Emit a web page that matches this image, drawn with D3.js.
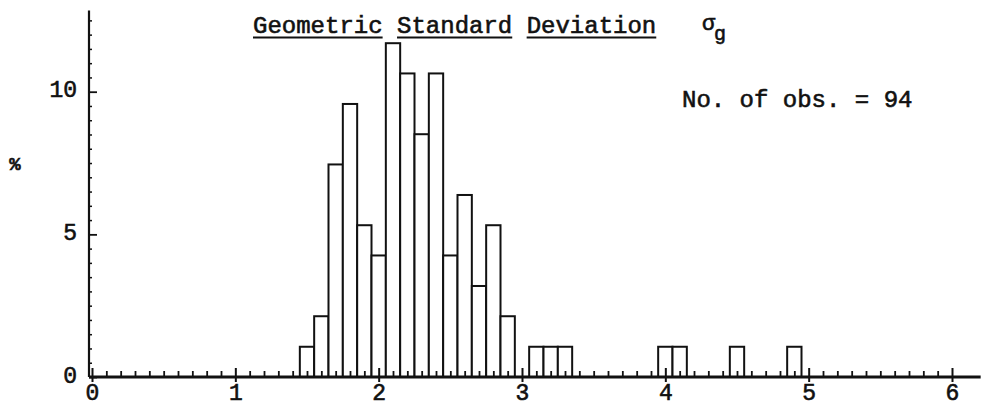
<!DOCTYPE html>
<html>
<head>
<meta charset="utf-8">
<script src="https://cdn.jsdelivr.net/npm/d3@7"></script>
<style>
  html, body { margin: 0; padding: 0; background: #fff; }
  svg { display: block; }
  text { font-family: "Liberation Mono", "DejaVu Sans Mono", monospace; fill: #111; stroke: #111; stroke-width: 0.6px; }
</style>
</head>
<body>
<svg id="chart" width="983" height="406"></svg>
<script>
// Histogram of geometric standard deviation, bins 0.1 wide, centred on each value
const binCenters = [1.5, 1.6, 1.7, 1.8, 1.9, 2.0, 2.1, 2.2, 2.3, 2.4, 2.5, 2.6, 2.7, 2.8, 2.9,
                    3.1, 3.2, 3.3, 4.0, 4.1, 4.5, 4.9];
// Percent of observations in each bin
const percents = [1.06, 2.13, 7.45, 9.57, 5.32, 4.26, 11.70, 10.64, 8.51, 10.64, 4.26, 6.38, 3.19, 5.32, 2.13,
                  1.06, 1.06, 1.06, 1.06, 1.06, 1.06, 1.06];
const xMajorTicks = [0, 1, 2, 3, 4, 5, 6];
const yMajorTicks = [0, 5, 10];
const titleWords = ["Geometric", "Standard", "Deviation"];
const noteText = "No. of obs. = 94";
const binWidth = 0.1;

const svg = d3.select("#chart");
const ink = "#111";

const x = d3.scaleLinear().domain([0, 6]).range([92, 952]);
const y = d3.scaleLinear().domain([0, 10]).range([377, 91.7]);

// Bars
svg.append("g")
  .selectAll("rect")
  .data(binCenters.map((c, i) => ({ c, p: percents[i] })))
  .join("rect")
  .attr("x", d => x(d.c - binWidth / 2))
  .attr("width", d => x(d.c + binWidth / 2) - x(d.c - binWidth / 2))
  .attr("y", d => y(d.p))
  .attr("height", d => y(0) - y(d.p))
  .attr("fill", "#fff")
  .attr("stroke", ink)
  .attr("stroke-width", 2);

// X axis: minor ticks every 0.1 pointing up
const xMinor = d3.range(0, 61).map(i => i / 10).filter(v => Math.abs(v - Math.round(v)) > 1e-9);
const gxMinor = svg.append("g").attr("transform", `translate(0,${y(0)})`)
  .call(d3.axisBottom(x).tickValues(xMinor).tickSizeInner(-6).tickSizeOuter(0).tickFormat(""));
gxMinor.select(".domain").remove();
gxMinor.selectAll(".tick line").attr("stroke", ink).attr("stroke-width", 1.8);

// X axis: major ticks and labels
const gxMajor = svg.append("g").attr("transform", `translate(0,${y(0)})`)
  .call(d3.axisBottom(x).tickValues(xMajorTicks).tickSizeInner(5).tickSizeOuter(0).tickFormat(d3.format("d")));
gxMajor.select(".domain").remove();
gxMajor.selectAll(".tick line").attr("y1", -9).attr("stroke", ink).attr("stroke-width", 2);
gxMajor.selectAll(".tick text")
  .attr("y", 23).attr("dy", 0)
  .style("font-size", "23px").style("font-family", "Liberation Mono, monospace").attr("fill", ink);

// X baseline
svg.append("line")
  .attr("x1", 89).attr("x2", x(6.2))
  .attr("y1", y(0)).attr("y2", y(0))
  .attr("stroke", ink).attr("stroke-width", 3);

// Y axis: minor ticks every 0.5 pointing right
const yMinor = d3.range(1, 26).map(i => i / 2).filter(v => v % 5 !== 0);
const gyMinor = svg.append("g").attr("transform", "translate(89,0)")
  .call(d3.axisLeft(y).tickValues(yMinor).tickSizeInner(-3).tickSizeOuter(0).tickFormat(""));
gyMinor.select(".domain").remove();
gyMinor.selectAll(".tick line").attr("stroke", ink).attr("stroke-width", 1.5);

// Y axis: major ticks and labels
const gyMajor = svg.append("g").attr("transform", "translate(89,0)")
  .call(d3.axisLeft(y).tickValues(yMajorTicks).tickSizeInner(-8).tickSizeOuter(0).tickPadding(12).tickFormat(d3.format("d")));
gyMajor.select(".domain").remove();
gyMajor.selectAll(".tick line").attr("stroke", ink).attr("stroke-width", 1.8);
gyMajor.selectAll(".tick text")
  .attr("dy", "0.22em")
  .style("font-size", "23px").style("font-family", "Liberation Mono, monospace").attr("fill", ink);

// Y axis line
svg.append("line")
  .attr("x1", 89).attr("x2", 89)
  .attr("y1", y(12.85)).attr("y2", y(0))
  .attr("stroke", ink).attr("stroke-width", 2.2);

// Y axis unit
svg.append("text")
  .attr("x", 15).attr("y", 170)
  .attr("text-anchor", "middle")
  .style("font-size", "19px").style("font-weight", "bold")
  .text("%");

// Title with each word underlined separately
const title = svg.append("text")
  .attr("x", 253).attr("y", 33)
  .style("font-size", "24px")
  .text(titleWords.join(" "));
const fullLen = title.node().getComputedTextLength();
const advance = fullLen / titleWords.join(" ").length;
let pos = 0;
titleWords.forEach(w => {
  svg.append("line")
    .attr("x1", 253 + pos * advance).attr("x2", 253 + (pos + w.length) * advance)
    .attr("y1", 37.5).attr("y2", 37.5)
    .attr("stroke", ink).attr("stroke-width", 2.2);
  pos += w.length + 1;
});

// Sigma with subscript g
svg.append("text")
  .attr("x", 702).attr("y", 30)
  .style("font-size", "22px")
  .text("σ");
svg.append("text")
  .attr("x", 714).attr("y", 40)
  .style("font-size", "20px")
  .text("g");

// Observation count
svg.append("text")
  .attr("x", 682).attr("y", 107)
  .style("font-size", "24px")
  .text(noteText);
</script>
</body>
</html>
